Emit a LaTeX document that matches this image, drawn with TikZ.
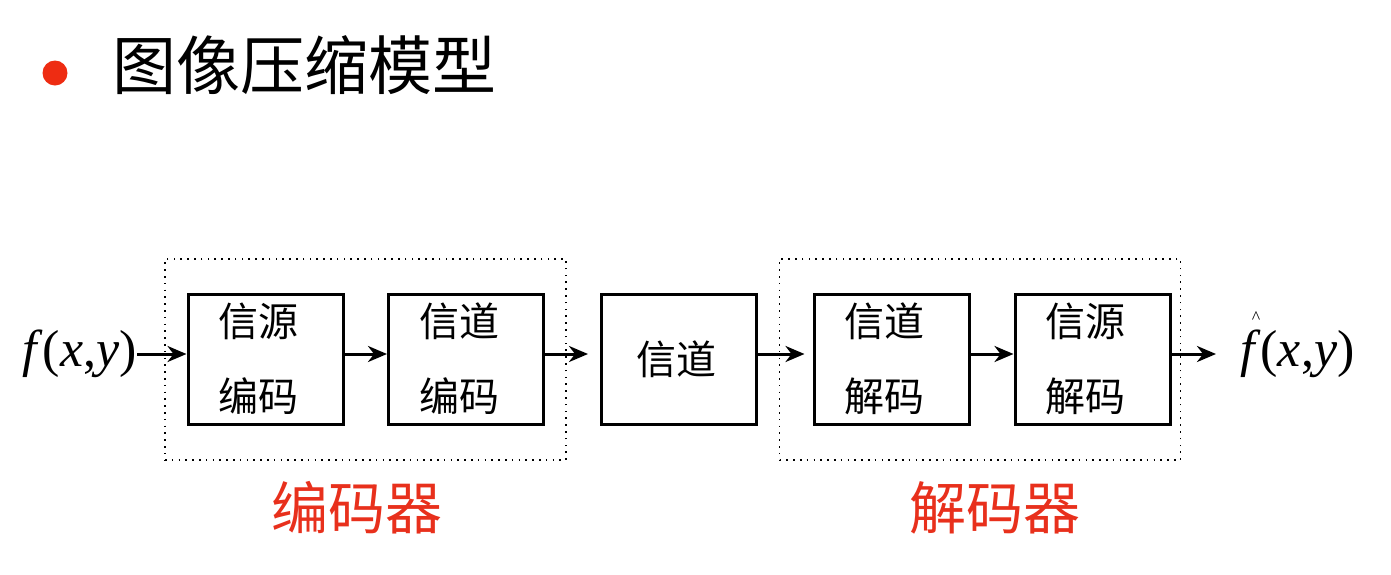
\documentclass[tikz,border=0pt]{standalone}
\usepackage{fontspec}
\setmainfont{Liberation Serif}
\newfontfamily\cjk{Noto Sans CJK SC}
\usetikzlibrary{arrows.meta}
\definecolor{bulred}{HTML}{EE2C12}
\definecolor{labred}{HTML}{E8301C}
\newcommand\shl{\hspace*{-14pt}}
\begin{document}
\begin{tikzpicture}[x=1pt,y=-1pt,
  blk/.style={draw, line width=3pt, minimum width=155pt, minimum height=130pt, inner sep=0pt, align=center, font=\cjk\fontsize{40}{75}\selectfont},
  grp/.style={draw, line width=1.6pt, dash pattern=on 1.6pt off 5.2pt, minimum width=401pt, minimum height=201pt, inner sep=0pt},
  arr/.style={line width=3pt, -{Stealth[length=19pt,width=16pt,inset=6pt]}},
  fxy/.style={font=\fontsize{52}{52}\selectfont, inner sep=0pt},
  redlab/.style={text=labred, font=\cjk\fontsize{57}{57}\selectfont, inner sep=0pt},
  ttl/.style={font=\cjk\fontsize{64}{64}\selectfont, inner sep=0pt, anchor=west}]
\useasboundingbox (0,0) rectangle (1391,574);
% title
\node[circle, fill=bulred, minimum size=25pt, inner sep=0pt] (bul) at (55,73) {};
\node[ttl] (title) at (112,65) {图像压缩模型};
% groups
\node[grp] (enc) at (365.5,359.5) {};
\node[grp] (dec) at (980,359.5) {};
% blocks
\node[blk] (a) at (265.5,359) {\shl 信源\\\shl 编码};
\node[blk] (b) at (466,359) {\shl 信道\\\shl 编码};
\node[blk] (c) at (679,359) {\hspace*{-6pt}信道};
\node[blk] (d) at (891.5,359) {\shl 信道\\\shl 解码};
\node[blk] (e) at (1092.5,359) {\shl 信源\\\shl 解码};
% input / output
\node[fxy, anchor=east] (f) at (137,354) {\textit{f}(\textit{x},\textit{y})};
\node[fxy, anchor=west] (fh) at (1240,354) {\textit{f}(\textit{x},\textit{y})};
\node[font=\fontsize{18}{18}\selectfont, inner sep=0pt] (hat) at (1256,318) {\textasciicircum};
% arrows
\draw[arr] (f.east) -- ([yshift=5pt]a.west);
\draw[arr] ([yshift=5pt]a.east) -- ([yshift=5pt]b.west);
\draw[arr, shorten >=12pt] ([yshift=5pt]b.east) -- ([yshift=5pt]c.west);
\draw[arr, shorten >=8pt] ([yshift=5pt]c.east) -- ([yshift=5pt]d.west);
\draw[arr] ([yshift=5pt]d.east) -- ([yshift=5pt]e.west);
\draw[arr, shorten >=24pt] ([yshift=5pt]e.east) -- (fh.west);
% labels
\node[redlab] (encl) at (357,508) {编码器};
\node[redlab] (decl) at (995,508) {解码器};
\end{tikzpicture}
\end{document}
